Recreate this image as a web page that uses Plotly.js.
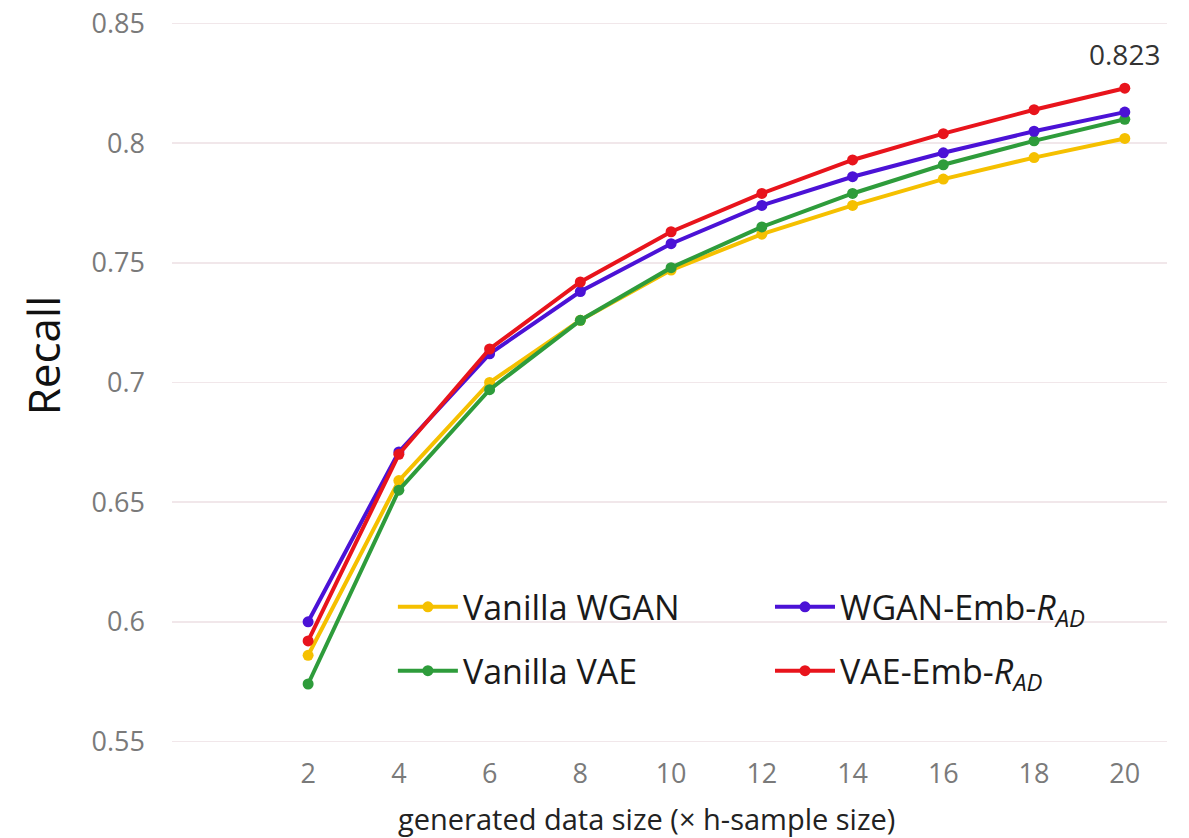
<!DOCTYPE html>
<html>
<head>
<meta charset="utf-8">
<script src="https://cdn.plot.ly/plotly-3.0.1.min.js"></script>
<style>html,body{margin:0;padding:0;background:#fff;}#chart{width:1189px;height:838px;}</style>
</head>
<body>
<div id="chart"></div>
<script>
var sizes = [2, 4, 6, 8, 10, 12, 14, 16, 18, 20];
var vanillaWGAN = [0.586, 0.659, 0.700, 0.726, 0.747, 0.762, 0.774, 0.785, 0.794, 0.802];
var vanillaVAE  = [0.574, 0.655, 0.697, 0.726, 0.748, 0.765, 0.779, 0.791, 0.801, 0.810];
var wganEmb     = [0.600, 0.671, 0.712, 0.738, 0.758, 0.774, 0.786, 0.796, 0.805, 0.813];
var vaeEmb      = [0.592, 0.670, 0.714, 0.742, 0.763, 0.779, 0.793, 0.804, 0.814, 0.823];
var seriesNames = ['Vanilla WGAN', 'Vanilla VAE', 'WGAN-Emb-<i>R</i><sub><i>AD</i></sub>', 'VAE-Emb-<i>R</i><sub><i>AD</i></sub>'];
var seriesColors = ['#f5c000', '#2e9c3b', '#4b12d6', '#e8141c'];
var yTicks = [0.55, 0.6, 0.65, 0.7, 0.75, 0.8, 0.85];
var yTickText = ['0.55', '0.6', '0.65', '0.7', '0.75', '0.8', '0.85'];

var allSeries = [vanillaWGAN, vanillaVAE, wganEmb, vaeEmb];
var legendIds = ['legend', 'legend3', 'legend2', 'legend4'];
var traces = allSeries.map(function (ys, i) {
  return {
    x: sizes, y: ys, type: 'scatter', mode: 'lines+markers',
    name: seriesNames[i],
    line: {color: seriesColors[i], width: 4},
    marker: {color: seriesColors[i], size: 11},
    legend: legendIds[i]
  };
});
var legFont = {family: 'Open Sans, Noto Sans, sans-serif', size: 34, color: '#1a1a1a'};
function leg(x, y) {
  return {x: x, y: y, xref: 'paper', yref: 'paper', xanchor: 'left', yanchor: 'middle',
          bgcolor: 'rgba(0,0,0,0)', borderwidth: 0, font: legFont, itemwidth: 60};
}
var layout = {
  width: 1189, height: 838,
  margin: {l: 172, r: 22, t: 20, b: 93},
  paper_bgcolor: '#ffffff', plot_bgcolor: '#ffffff',
  font: {family: 'Open Sans, Noto Sans, sans-serif'},
  showlegend: true,
  legend: leg(0.222, 0.190),
  legend2: leg(0.601, 0.190),
  legend3: leg(0.222, 0.102),
  legend4: leg(0.601, 0.102),
  xaxis: {
    range: [-1, 20.93], tickvals: sizes, ticktext: sizes.map(String),
    showgrid: false, zeroline: false, showline: false, ticks: '',
    tickfont: {size: 27, color: '#7a7a7a'}, ticklabelstandoff: 10
  },
  yaxis: {
    range: [0.5485, 0.8515], tickvals: yTicks, ticktext: yTickText,
    showgrid: true, gridcolor: '#f1e7ea', gridwidth: 1.5,
    zeroline: false, showline: false, ticks: '',
    tickfont: {size: 27, color: '#7a7a7a'}, ticklabelstandoff: 26
  },
  annotations: [
    {x: 20, y: vaeEmb[9], xref: 'x', yref: 'y', text: vaeEmb[9].toFixed(3), showarrow: false,
     yshift: 34, font: {size: 28, color: '#333333'}},
    {x: -0.13, y: 0.537, xref: 'paper', yref: 'paper', text: 'Recall', showarrow: false, textangle: -90,
     xanchor: 'center', yanchor: 'middle', font: {size: 44, color: '#111111'}},
    {x: 0.477, y: -0.101, xref: 'paper', yref: 'paper', text: 'generated data size (× h-sample size)', showarrow: false,
     xanchor: 'center', yanchor: 'middle', font: {size: 29, color: '#222222'}}
  ]
};
Plotly.newPlot('chart', traces, layout, {displayModeBar: false, staticPlot: true});
</script>
</body>
</html>
